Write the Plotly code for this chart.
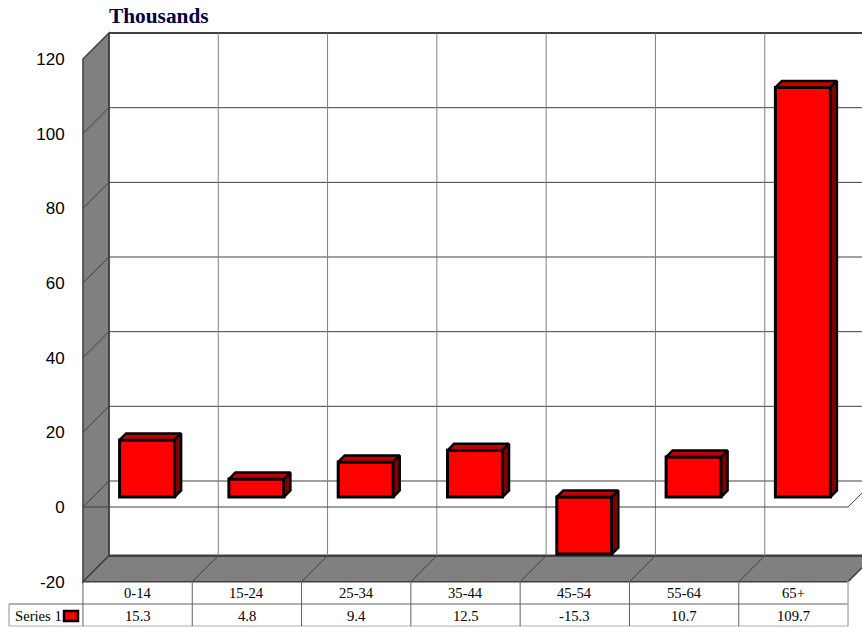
import plotly.graph_objects as go

categories = ["0-14", "15-24", "25-34", "35-44", "45-54", "55-64", "65+"]
values = [15.3, 4.8, 9.4, 12.5, -15.3, 10.7, 109.7]
y_ticks = [-20, 0, 20, 40, 60, 80, 100, 120]
series_name = "Series 1"
title_text = "Thousands"

W, H = 862, 627
PX_CAT = 109.3     # px per category
PX_UNIT = 3.733    # px per value unit
X0_PX = 137.6      # px of first category centre on the front plane
Y0_PX = 507        # px of value 0 on the front plane
WALL = 26          # oblique depth of the box, px
BAR_NEAR, BAR_FAR = 10, 16.5   # depth of bars, px
BAR_W = 55 / PX_CAT


def dx(px):
    return px / PX_CAT


def dy(px):
    return px / PX_UNIT


def poly_path(pts):
    return "M " + " L ".join(f"{x},{y}" for x, y in pts) + " Z"


def px2paper_x(px):
    return px / W


def px2paper_y(px):
    return 1 - px / H


n = len(categories)
idx = list(range(n))
y_min, y_max = y_ticks[0], y_ticks[-1]
x_left, x_right = -0.5, n - 0.5
shapes = []

GRID_H = "#404040"
GRID_V = "#808080"
WALL_FILL = "#808080"
WALL_EDGE = "#404040"

# left wall and floor
shapes.append(dict(type="path", layer="below", xref="x", yref="y", fillcolor=WALL_FILL,
                   line=dict(color=WALL_EDGE, width=1.5),
                   path=poly_path([(x_left, y_min), (x_left, y_max),
                                   (x_left + dx(WALL), y_max + dy(WALL)),
                                   (x_left + dx(WALL), y_min + dy(WALL))])))
shapes.append(dict(type="path", layer="below", xref="x", yref="y", fillcolor=WALL_FILL,
                   line=dict(color=WALL_EDGE, width=1.5),
                   path=poly_path([(x_left, y_min), (x_left + dx(WALL), y_min + dy(WALL)),
                                   (x_right + dx(WALL), y_min + dy(WALL)), (x_right, y_min)])))

# horizontal grid: along the back wall and diagonally over the left wall
for t in y_ticks[1:]:
    width = 2 if t == y_max else 1
    shapes.append(dict(type="line", layer="below", xref="x", yref="y",
                       x0=x_left + dx(WALL), x1=x_right + dx(WALL),
                       y0=t + dy(WALL), y1=t + dy(WALL),
                       line=dict(color=GRID_H, width=width)))
    shapes.append(dict(type="line", layer="below", xref="x", yref="y",
                       x0=x_left, x1=x_left + dx(WALL), y0=t, y1=t + dy(WALL),
                       line=dict(color=GRID_H, width=1)))
# thick floor back edge
shapes.append(dict(type="line", layer="below", xref="x", yref="y",
                   x0=x_left + dx(WALL), x1=x_right + dx(WALL),
                   y0=y_min + dy(WALL), y1=y_min + dy(WALL),
                   line=dict(color=GRID_H, width=2.5)))

# vertical grid on back wall, diagonals over the floor
for b in [i + 0.5 for i in idx]:
    shapes.append(dict(type="line", layer="below", xref="x", yref="y",
                       x0=b + dx(WALL), x1=b + dx(WALL),
                       y0=y_min + dy(WALL), y1=y_max + dy(WALL),
                       line=dict(color=GRID_V, width=1)))
    shapes.append(dict(type="line", layer="below", xref="x", yref="y",
                       x0=b, x1=b + dx(WALL), y0=y_min, y1=y_min + dy(WALL),
                       line=dict(color=WALL_EDGE, width=1)))
shapes.append(dict(type="line", layer="below", xref="x", yref="y",
                   x0=x_left + dx(WALL), x1=x_left + dx(WALL),
                   y0=y_min + dy(WALL), y1=y_max + dy(WALL),
                   line=dict(color=WALL_EDGE, width=1.5)))

# zero plane front edge
shapes.append(dict(type="path", layer="below", xref="x", yref="y", fillcolor="rgba(0,0,0,0)",
                   line=dict(color=GRID_H, width=1),
                   path=f"M {x_left},0 L {x_right},0 L {x_right + dx(WALL)},{dy(WALL)}"))

# data table
TBL_TOP, TBL_MID, TBL_BOT = 581, 604, 626
TBL_LINE = "#606060"


def paper_line(x0, y0, x1, y1, color=TBL_LINE, width=1):
    shapes.append(dict(type="line", xref="paper", yref="paper",
                       x0=px2paper_x(x0), x1=px2paper_x(x1),
                       y0=px2paper_y(y0), y1=px2paper_y(y1),
                       line=dict(color=color, width=width)))


def cat_px(v):
    return X0_PX + v * PX_CAT


paper_line(9, TBL_MID, cat_px(x_right), TBL_MID)
paper_line(9, TBL_BOT, cat_px(x_right), TBL_BOT, color="#b0b0b0")
paper_line(9, TBL_MID, 9, TBL_BOT, color="#909090")
for b in [i - 0.5 for i in idx]:
    paper_line(cat_px(b), TBL_TOP, cat_px(b), TBL_BOT)
paper_line(cat_px(x_right), TBL_TOP, cat_px(x_right), TBL_BOT, color="#b0b0b0", width=1.5)

# legend key
shapes.append(dict(type="rect", xref="paper", yref="paper",
                   x0=px2paper_x(64), x1=px2paper_x(78),
                   y0=px2paper_y(621), y1=px2paper_y(611),
                   fillcolor="#ff0000", line=dict(color="#000000", width=2.5)))

fig = go.Figure()

# bar front faces
cx = [i + dx(BAR_NEAR) - dx(0.5) for i in idx]
fig.add_trace(go.Bar(x=cx, y=values, base=dy(BAR_NEAR), width=BAR_W,
                     marker=dict(color="#ff0000", line=dict(color="#000000", width=3)),
                     showlegend=False, hoverinfo="skip"))

# bar top and side faces
d = dy(BAR_FAR - BAR_NEAR)
e = dx(BAR_FAR - BAR_NEAR)
for i, v in enumerate(values):
    L, R = cx[i] - BAR_W / 2, cx[i] + BAR_W / 2
    base = dy(BAR_NEAR)
    top, bot = base + max(v, 0), base + min(v, 0)
    fig.add_trace(go.Scatter(x=[L, L + e, R + e, R, L], y=[top, top + d, top + d, top, top],
                             mode="lines", fill="toself", fillcolor="#c00000",
                             line=dict(color="#000000", width=2.5),
                             showlegend=False, hoverinfo="skip"))
    fig.add_trace(go.Scatter(x=[R, R + e, R + e, R, R], y=[top, top + d, bot + d, bot, top],
                             mode="lines", fill="toself", fillcolor="#800000",
                             line=dict(color="#000000", width=2.5),
                             showlegend=False, hoverinfo="skip"))

annotations = [dict(text=f"<b>{title_text}</b>", xref="paper", yref="paper",
                    x=px2paper_x(107), y=px2paper_y(16.5), xanchor="left", yanchor="middle",
                    showarrow=False,
                    font=dict(family="Liberation Serif", size=21.33, color="#000040"))]
cell_font = dict(family="Liberation Serif", size=14.67, color="#000000")
for i, (c, v) in enumerate(zip(categories, values)):
    annotations.append(dict(text=c, xref="x", yref="paper", x=i, y=px2paper_y(592.5),
                            showarrow=False, font=cell_font, xanchor="center", yanchor="middle"))
    annotations.append(dict(text=str(v), xref="x", yref="paper", x=i, y=px2paper_y(615.5),
                            showarrow=False, font=cell_font, xanchor="center", yanchor="middle"))
annotations.append(dict(text=series_name, xref="paper", yref="paper",
                        x=px2paper_x(13), y=px2paper_y(615.5),
                        showarrow=False, font=cell_font, xanchor="left", yanchor="middle"))

fig.update_layout(
    width=W, height=H, autosize=False,
    margin=dict(l=0, r=0, t=0, b=0, autoexpand=False),
    paper_bgcolor="#ffffff", plot_bgcolor="#ffffff",
    shapes=shapes, annotations=annotations, showlegend=False,
    xaxis=dict(range=[-X0_PX / PX_CAT, (W - X0_PX) / PX_CAT], showgrid=False, zeroline=False,
               showticklabels=False, ticks="", showline=False, domain=[0, 1]),
    yaxis=dict(range=[-(H - Y0_PX) / PX_UNIT, Y0_PX / PX_UNIT], showgrid=False, zeroline=False,
               anchor="free", position=83 / W, side="left", showline=False,
               tickmode="array", tickvals=y_ticks, ticktext=[str(t) for t in y_ticks],
               ticks="outside", ticklen=15, tickcolor="rgba(0,0,0,0)",
               tickfont=dict(family="Liberation Sans", size=17, color="#000000"),
               domain=[0, 1]),
)

fig.write_html("out.html", config={"displayModeBar": False},
               post_script="document.body.style.margin='0';document.body.style.overflow='hidden';")
